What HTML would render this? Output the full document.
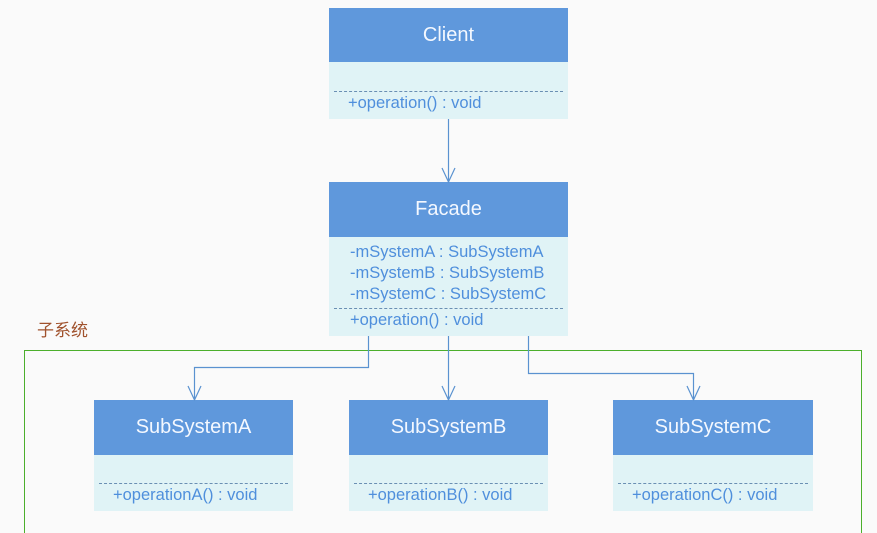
<!DOCTYPE html>
<html style="overflow:hidden"><head><meta charset="utf-8"><style>
body{margin:0;width:877px;height:533px;background:#fafafa;position:relative;overflow:hidden;font-family:"Liberation Sans","Noto Sans CJK SC",sans-serif}
.b{position:absolute;background:#e0f3f6}
.h{position:absolute;left:0;right:0;top:0;background:#5f98dc;color:#f4f8ff;font-size:20px;text-align:center}
.d{position:absolute;left:5px;right:5px;border-top:1px dashed #6a8fb3}
.t{position:absolute;color:#4f8fdc;font-size:16.5px;white-space:nowrap}
</style></head><body>
<div style="position:absolute;left:24px;top:350px;width:838px;height:190px;border:1px solid #4caf2c;box-sizing:border-box"></div>
<div style="position:absolute;left:37px;top:316px;color:#a0522d;font-size:17px">子系统</div>

<div class="b" style="left:329px;top:8px;width:239px;height:111px"><div class="h" style="height:54px;line-height:54px">Client</div><div class="d" style="top:83px"></div><div class="t" style="left:19px;top:86px">+operation() : void</div></div>

<div class="b" style="left:329px;top:182px;width:239px;height:154px"><div class="h" style="height:55px;line-height:55px">Facade</div>
<div class="t" style="left:21px;top:61px">-mSystemA : SubSystemA</div>
<div class="t" style="left:21px;top:82px">-mSystemB : SubSystemB</div>
<div class="t" style="left:21px;top:103px">-mSystemC : SubSystemC</div>
<div class="d" style="top:126px"></div>
<div class="t" style="left:21px;top:129px">+operation() : void</div></div>

<div class="b" style="left:94px;top:400px;width:199px;height:111px"><div class="h" style="height:55px;line-height:55px">SubSystemA</div><div class="d" style="top:83px"></div><div class="t" style="left:19px;top:86px">+operationA() : void</div></div>
<div class="b" style="left:349px;top:400px;width:199px;height:111px"><div class="h" style="height:55px;line-height:55px">SubSystemB</div><div class="d" style="top:83px"></div><div class="t" style="left:19px;top:86px">+operationB() : void</div></div>
<div class="b" style="left:613px;top:400px;width:200px;height:111px"><div class="h" style="height:55px;line-height:55px">SubSystemC</div><div class="d" style="top:83px"></div><div class="t" style="left:19px;top:86px">+operationC() : void</div></div>

<svg width="877" height="533" style="position:absolute;left:0;top:0" fill="none" stroke="#5a92d0" stroke-width="1.2">
<path d="M448.5 119V182M442 168l6.5 14 6.5-14"/>
<path d="M368.5 336V367.5H194.5V400M188 386l6.5 14 6.5-14"/>
<path d="M448.5 336V400M442 386l6.5 14 6.5-14"/>
<path d="M528.5 336V373.5H693.5V400M687 386l6.5 14 6.5-14"/>
</svg>
</body></html>
